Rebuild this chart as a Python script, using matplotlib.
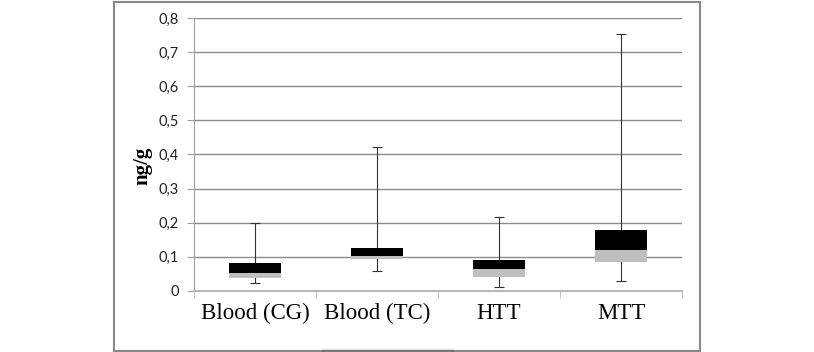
import matplotlib
matplotlib.use("Agg")
import matplotlib.pyplot as plt
from matplotlib.patches import Rectangle
from matplotlib.lines import Line2D
import numpy as np

categories = ["Blood (CG)", "Blood (TC)", "HTT", "MTT"]
mins = [0.022, 0.058, 0.010, 0.029]
q1 = [0.036, 0.092, 0.041, 0.085]
medians = [0.051, 0.102, 0.063, 0.120]
q3 = [0.080, 0.124, 0.090, 0.178]
maxs = [0.200, 0.423, 0.216, 0.753]
yticks = [0, 0.1, 0.2, 0.3, 0.4, 0.5, 0.6, 0.7, 0.8]
ytick_labels = ["0", "0,1", "0,2", "0,3", "0,4", "0,5", "0,6", "0,7", "0,8"]

fig = plt.figure(figsize=(8.14, 3.52), dpi=100)
ax = fig.add_axes([194/814, 1-290.7/352, (682-194)/814, (290.7-18.3)/352])

x = np.arange(len(categories))
q1a = np.array(q1); meda = np.array(medians); q3a = np.array(q3)
mina = np.array(mins); maxa = np.array(maxs)

# whiskers
ax.errorbar(x, meda, yerr=[meda - mina, maxa - meda], fmt="none",
            ecolor="#333333", elinewidth=0.8, capsize=3.5, capthick=0.8, zorder=2)
# boxes
w = 0.42
ax.bar(x, meda - q1a, bottom=q1a, width=w, color="#bfbfbf", zorder=3)
ax.bar(x, q3a - meda, bottom=meda, width=w, color="#000000", zorder=3)

ax.set_xlim(-0.5, len(categories) - 0.5)
ax.set_ylim(0, 0.8)
ax.set_yticks(yticks)
ax.set_yticklabels(ytick_labels, fontsize=10.5, family="Lato", color="#222222")
ax.yaxis.grid(True, color="#8c8c8c", linewidth=1.0)
ax.set_axisbelow(True)

for s in ["top", "right"]:
    ax.spines[s].set_visible(False)
ax.spines["left"].set_color("#a0a0a0")
ax.spines["bottom"].set_color("#b8b8b8")
ax.spines["bottom"].set_linewidth(1.5)
ax.tick_params(axis="y", length=5, color="#a0a0a0", pad=6)

ax.set_xticks(x)
ax.set_xticklabels(categories, fontsize=16.5, family="Liberation Serif", color="black")
ax.tick_params(axis="x", length=0, pad=9)
ax.set_xticks(np.arange(len(categories) + 1) - 0.5, minor=True)
ax.tick_params(axis="x", which="minor", length=5, color="#b8b8b8")

ax.set_ylabel("ng/g", fontsize=15, family="Liberation Serif", fontweight="bold")
ax.yaxis.set_label_coords(-0.086, 0.458)

# outer chart frame
fig.add_artist(Rectangle((114/814, 1.5/352), (700-114)/814, 349/352,
                         transform=fig.transFigure, fill=False,
                         edgecolor="#8a8a8a", linewidth=1.5))
fig.add_artist(Line2D([323/814, 452/814], [1.5/352, 1.5/352],
                      transform=fig.transFigure, color="#777777", linewidth=2.5))

fig.savefig("out.png", dpi=100)
